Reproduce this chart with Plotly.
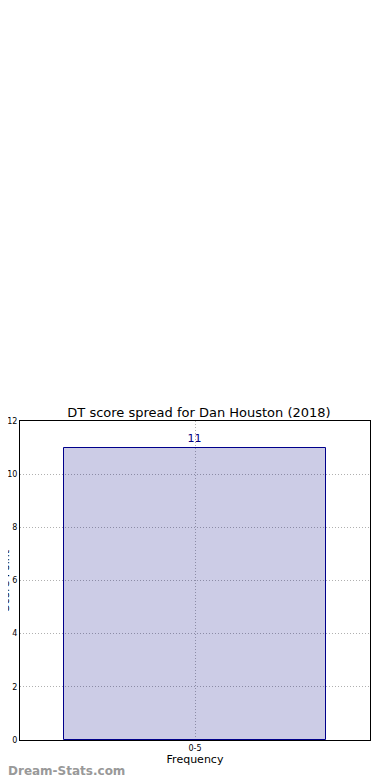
import plotly.graph_objects as go

categories = ["0-5"]
frequencies = [11]
title = "DT score spread for Dan Houston (2018)"
y_ticks = [0, 2, 4, 6, 8, 10, 12]

# the page body adds an 8px offset; figure size and margins compensate for it
W, H = 382, 772
L, R, T, B = 12, 20, 413, 40
plot_h = H - T - B
plot_w = W - L - R

fig = go.Figure()
fig.add_trace(go.Bar(
    x=categories, y=frequencies, width=0.75,
    marker=dict(color="rgba(0,0,128,0.2)", line=dict(color="#00008B", width=1)),
    text=[str(v) for v in frequencies], textposition="outside",
    textfont=dict(color="#00007F", size=11, family="DejaVu Sans"),
    cliponaxis=False,
))

fig.update_layout(
    width=W, height=H,
    margin=dict(l=L, r=R, t=T, b=B, autoexpand=False),
    plot_bgcolor="white", paper_bgcolor="white",
    showlegend=False,
    title=dict(text=title, x=0.5, xanchor="center", y=1 - (412 - 8) / H, yanchor="middle",
               font=dict(size=13, family="DejaVu Sans", color="black")),
    font=dict(family="DejaVu Sans", color="black"),
    bargap=0,
)
fig.update_xaxes(
    range=[-0.5, 0.5], showline=True, linecolor="black", linewidth=1, mirror=True,
    showgrid=True, gridcolor="#b0b0b0", griddash="1px,2px", gridwidth=1,
    tickfont=dict(size=8), ticks="", ticklen=0, automargin=False,
    title=dict(text="Frequency", font=dict(size=11), standoff=2),
)
fig.update_yaxes(
    range=[0, 12], tickvals=y_ticks, showline=True, linecolor="black", linewidth=1, mirror=True,
    showgrid=True, gridcolor="#b0b0b0", griddash="1px,2px", gridwidth=1,
    tickfont=dict(size=8), ticks="", zeroline=False, automargin=False,
)
fig.add_annotation(text="Score Point", xref="paper", yref="paper", x=(-3 - L) / plot_w, y=0.5,
                   textangle=-90, showarrow=False, font=dict(size=11, color="black"),
                   xanchor="center", yanchor="middle")
fig.add_annotation(text="<b>Dream-Stats.com</b>", xref="paper", yref="paper",
                   x=(-2 - L) / plot_w, y=-(771 - 740) / plot_h, xanchor="left", yanchor="middle",
                   showarrow=False, font=dict(size=12, color="#999999", family="DejaVu Sans"))
fig.write_html("out.html")
